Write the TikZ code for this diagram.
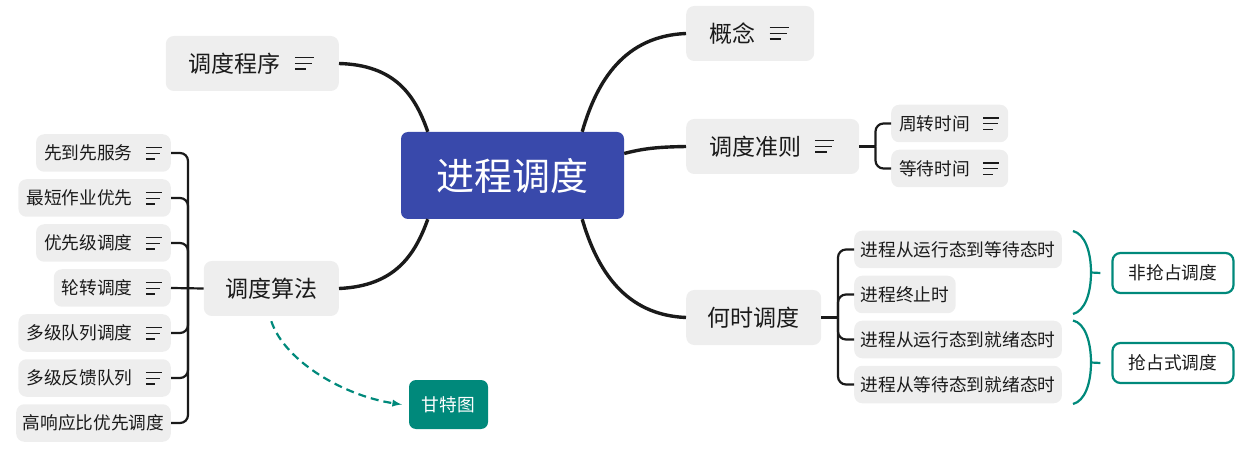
\documentclass[tikz,border=0pt]{standalone}
\usepackage{fontspec}
\setmainfont{Noto Sans CJK SC}
\usetikzlibrary{calc,shapes,arrows}
\definecolor{rootblue}{HTML}{3949AB}
\definecolor{topicgray}{HTML}{EEEEEE}
\definecolor{sumteal}{HTML}{00897B}
\definecolor{inkdark}{HTML}{1A1A1A}
\newcommand{\notelines}[3]{\kern#1pt\raisebox{.12em}{$\vcenter{\hrule width #2pt height 1.3pt \vskip 4.4pt \hrule width \dimexpr#2pt*9/10\relax height 1.3pt \vskip 4.4pt \hrule width \dimexpr#2pt*6/10\relax height 1.3pt}$}\kern#3pt}
\tikzset{
    rootbox/.style={fill=rootblue,rounded corners=7pt,text=white,minimum width=223pt,minimum height=87pt,inner sep=0pt,font=\fontsize{38}{40}\selectfont},
    topicbox/.style={fill=topicgray,rounded corners=8pt,text=inkdark,minimum height=55pt,inner ysep=0pt,inner xsep=23pt,font=\fontsize{23}{25}\selectfont},
    plaintopic/.style={topicbox,inner xsep=21.5pt},
    subbox/.style={fill=topicgray,rounded corners=8pt,text=inkdark,minimum height=37.5pt,inner ysep=0pt,inner xsep=8pt,font=\fontsize{17.7}{20}\selectfont},
    plainsub/.style={subbox,inner xsep=6.5pt},
    sumbox/.style={draw=sumteal,line width=2.2pt,fill=white,rounded corners=8pt,text=inkdark,minimum width=121pt,minimum height=40pt,inner sep=0pt,font=\fontsize{17.7}{20}\selectfont},
    floatbox/.style={fill=sumteal,rounded corners=7pt,text=white,minimum width=79pt,minimum height=49pt,inner sep=0pt,font=\fontsize{17.7}{20}\selectfont},
    trunk/.style={draw=inkdark,line width=3.4pt},
    twig/.style={draw=inkdark,line width=2.2pt,rounded corners=8pt},
    sumline/.style={draw=sumteal,line width=2.2pt}
}
\begin{document}
\begin{tikzpicture}[x=1pt,y=-1pt]
        \useasboundingbox (0,0) rectangle (1245,454);
        \node[rootbox] (root) at (512.5,175.5) {进程调度};
        \node[topicbox,anchor=east] (chengxu) at (339,63.5) {调度程序\notelines{14}{19}{2}};
        \node[plaintopic,anchor=east] (suanfa) at (339,288.5) {调度算法};
        \node[topicbox,anchor=west,minimum width=128pt] (gainian) at (686,33.5) {概念\notelines{14}{19}{2}};
        \node[topicbox,anchor=west] (zhunze) at (686,146.5) {调度准则\notelines{14}{19}{2}};
        \node[plaintopic,anchor=west] (heshi) at (686,317.5) {何时调度};
        \foreach \nm/\yy/\lbl in {xianlai/153/先到先服务, duanzuo/198/最短作业优先, youxian/243/优先级调度, lunzhuan/288/轮转调度, duilie/333/多级队列调度, fankui/378/多级反馈队列}
        \node[subbox,anchor=east] (\nm) at (171,\yy) {\lbl\notelines{13.2}{16}{1}};
        \node[plainsub,anchor=east] (gaoxiang) at (171,423) {高响应比优先调度};
        \foreach \nm/\yy/\lbl in {zhouzhuan/123.5/周转时间, dengdai/168.5/等待时间}
        \node[subbox,anchor=west] (\nm) at (891,\yy) {\lbl\notelines{13.2}{16}{1}};
        \foreach \nm/\yy/\lbl in {yunxingdeng/249.5/进程从运行态到等待态时, zhongzhi/294.5/进程终止时, yunxingjiu/339.5/进程从运行态到就绪态时, dengdaijiu/384.5/进程从等待态到就绪态时}
        \node[plainsub,anchor=west] (\nm) at (854,\yy) {\lbl};
        \node[sumbox] (feiqiang) at (1173,273) {非抢占调度};
        \node[sumbox] (qiangzhan) at (1173,363) {抢占式调度};
        \node[floatbox] (gantt) at (448.5,404.5) {甘特图};

        \draw[trunk] (chengxu.east) .. controls (395,65) and (415,95) .. ([xshift=27pt]root.north west);
        \draw[trunk] (suanfa.east) .. controls (395,286) and (415,255) .. ([xshift=27pt]root.south west);
        \draw[trunk] (gainian.west) .. controls (625,36) and (597,80) .. ([xshift=-42pt]root.north east);
        \draw[trunk] (zhunze.west) .. controls (660,147) and (645,148) .. ([yshift=22pt]root.east);
        \draw[trunk] (heshi.west) .. controls (625,315) and (597,270) .. ([xshift=-42pt]root.south east);

        \coordinate (suanfaJ) at (188,288.5);
        \coordinate (zhunzeJ) at (875.5,146.5);
        \coordinate (heshiJ) at (838,317.5);
        \draw[twig] (suanfa.west) -- (lunzhuan.east);
        \foreach \nm in {xianlai, duanzuo, youxian, duilie, fankui, gaoxiang}
        \draw[twig] (suanfaJ) |- (\nm.east);
        \draw[twig] (zhunze.east) -- (zhunzeJ);
        \foreach \nm in {zhouzhuan, dengdai}
        \draw[twig] (zhunzeJ) |- (\nm.west);
        \draw[twig] (heshi.east) -- (heshiJ);
        \foreach \nm in {yunxingdeng, zhongzhi, yunxingjiu, dengdaijiu}
        \draw[twig] (heshiJ) |- (\nm.west);

        \coordinate (feiTop) at (1073,231);
        \coordinate (feiMid) at (1091,272.5);
        \coordinate (feiBot) at (1073,314);
        \coordinate (qiangTop) at (1073,320.5);
        \coordinate (qiangMid) at (1091,362.5);
        \coordinate (qiangBot) at (1073,404);
        \draw[sumline] (feiTop) .. controls (1085,234) and (1091,252) .. (feiMid) .. controls (1091,293) and (1085,311) .. (feiBot);
        \draw[sumline] (feiMid) -- ([xshift=-11pt]feiqiang.west);
        \draw[sumline] (qiangTop) .. controls (1085,323) and (1091,342) .. (qiangMid) .. controls (1091,383) and (1085,401) .. (qiangBot);
        \draw[sumline] (qiangMid) -- ([xshift=-11pt]qiangzhan.west);

        \draw[sumline,dash pattern=on 8pt off 5pt,-latex] ([yshift=-5pt]suanfa.south) .. controls (285,362) and (345,396) .. ([xshift=-7pt]gantt.west);
    \end{tikzpicture}
\end{document}
